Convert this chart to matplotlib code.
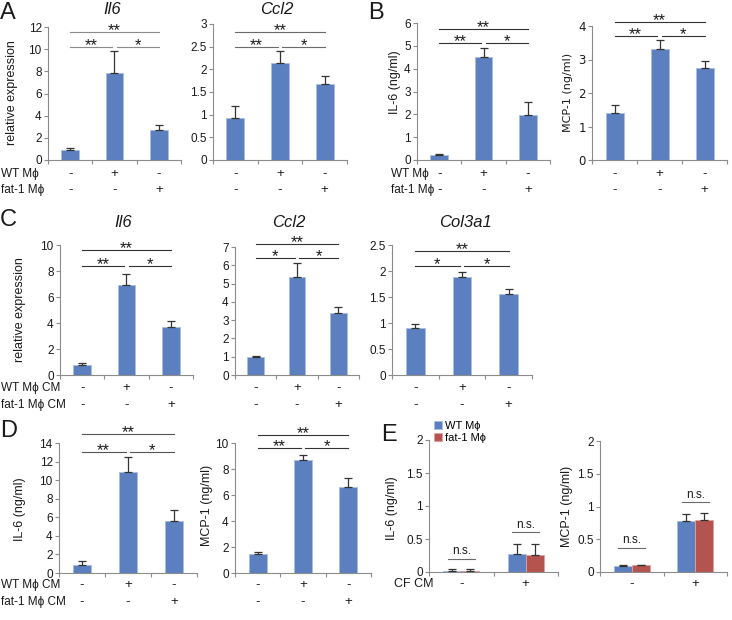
import matplotlib
matplotlib.use('Agg')

import matplotlib.pyplot as plt
import numpy as np
from matplotlib.ticker import FuncFormatter

plt.rcParams['font.family'] = ['Liberation Sans', 'DejaVu Sans']

W, H = 732, 620

BLUE = '#5b7fbf'
BLUE_EDGE = '#a8bfe4'
RED = '#b5534f'
RED_EDGE = '#e0a3a0'
AXIS = '#8c8c8c'
TXT = '#1a1a1a'

# A: qPCR in cardiac fibroblasts co-cultured with macrophages
A_IL6 = [0.90, 7.85, 2.75]
A_IL6_ERR = [0.15, 2.00, 0.40]
A_CCL2 = [0.93, 2.14, 1.68]
A_CCL2_ERR = [0.27, 0.27, 0.18]

# B: secreted proteins
B_IL6 = [0.22, 4.52, 1.95]
B_IL6_ERR = [0.05, 0.40, 0.57]
B_MCP1 = [1.40, 3.30, 2.74]
B_MCP1_ERR = [0.25, 0.28, 0.22]

# C: qPCR with conditioned medium
C_IL6 = [0.80, 6.95, 3.70]
C_IL6_ERR = [0.15, 0.80, 0.45]
C_CCL2 = [1.00, 5.35, 3.38]
C_CCL2_ERR = [0.03, 0.75, 0.32]
C_COL3A1 = [0.90, 1.89, 1.56]
C_COL3A1_ERR = [0.09, 0.09, 0.10]

# D: secreted proteins with conditioned medium
D_IL6 = [0.85, 10.9, 5.65]
D_IL6_ERR = [0.40, 1.55, 1.10]
D_MCP1 = [1.50, 8.70, 6.65]
D_MCP1_ERR = [0.10, 0.40, 0.65]

# E: macrophages with / without CF CM
E_GROUPS = ['-', '+']
E_IL6_WT = [0.02, 0.27]
E_IL6_WT_ERR = [0.02, 0.16]
E_IL6_FAT1 = [0.02, 0.26]
E_IL6_FAT1_ERR = [0.02, 0.17]
E_MCP1_WT = [0.09, 0.78]
E_MCP1_WT_ERR = [0.01, 0.10]
E_MCP1_FAT1 = [0.10, 0.79]
E_MCP1_FAT1_ERR = [0.01, 0.11]

ROW_WT = ['-', '+', '-']
ROW_FAT1 = ['-', '-', '+']

fig = plt.figure(figsize=(W / 100, H / 100), dpi=100)


def px(x, y):
  return x / W, 1 - y / H


def add_ax(left, right, top, bottom):
  return fig.add_axes([left / W, 1 - bottom / H, (right - left) / W, (bottom - top) / H])


def style(ax, ymax, ystep, ncat, font='Liberation Sans'):
  ax.set_xlim(-0.5, ncat - 0.5)
  ax.set_ylim(0, ymax)
  ax.set_yticks(np.arange(0, ymax + ystep / 2, ystep))
  ax.yaxis.set_major_formatter(FuncFormatter(lambda v, p: '%g' % v))
  ax.set_xticks(np.arange(-0.5, ncat, 1.0))
  ax.set_xticklabels([])
  for s in ['top', 'right']:
    ax.spines[s].set_visible(False)
  for s in ['left', 'bottom']:
    ax.spines[s].set_color(AXIS)
    ax.spines[s].set_linewidth(0.8)
  ax.tick_params(color=AXIS, length=3, width=0.8, labelsize=8.5, labelcolor=TXT, pad=1.5)
  for lab in ax.get_yticklabels():
    lab.set_family([font, 'DejaVu Sans'])
  ax.set_facecolor('none')


def bars3(ax, vals, errs):
  x = np.arange(len(vals))
  ax.bar(x, vals, width=0.4, color=BLUE, edgecolor=BLUE_EDGE, linewidth=0.6, zorder=2)
  ax.errorbar(x, vals, yerr=[np.zeros(len(errs)), errs], fmt='none', ecolor='#333333',
              elinewidth=0.9, capsize=3, capthick=0.9, zorder=3)


def star(ax, x, y, s):
  ax.annotate(s, xy=(x, y), xytext=(0, -2.2), textcoords='offset points',
              ha='center', va='baseline', fontsize=12, color=TXT, annotation_clip=False)


def brackets(ax, top, low, labels=('**', '**', '*'), color='#4a4a4a'):
  kw = dict(color=color, lw=0.8, clip_on=False)
  ax.plot([0, 2], [top, top], **kw)
  ax.plot([0, 0.95], [low, low], **kw)
  ax.plot([1.05, 2], [low, low], **kw)
  star(ax, 1, top, labels[0])
  star(ax, 0.47, low, labels[1])
  star(ax, 1.53, low, labels[2])


def sign_rows(ax, rows, offsets):
  for signs, off in zip(rows, offsets):
    for i, s in enumerate(signs):
      ax.annotate(s, xy=(i, 0), xycoords=('data', 'axes fraction'),
                  xytext=(0, -off * 0.72), textcoords='offset points',
                  ha='center', va='center', fontsize=9.5, color=TXT)


def bars2(ax, wt, wt_err, fat, fat_err, ns):
  x = np.arange(len(wt))
  w = 0.28
  ax.bar(x - w / 2, wt, width=w, color=BLUE, edgecolor=BLUE_EDGE, linewidth=0.6, zorder=2,
         label='WT M\u03d5')
  ax.bar(x + w / 2, fat, width=w, color=RED, edgecolor=RED_EDGE, linewidth=0.6, zorder=2,
         label='fat-1 M\u03d5')
  ek = dict(fmt='none', ecolor='#333333', elinewidth=0.9, capsize=3, capthick=0.9, zorder=3)
  ax.errorbar(x - w / 2, wt, yerr=[np.zeros(len(wt)), wt_err], **ek)
  ax.errorbar(x + w / 2, fat, yerr=[np.zeros(len(fat)), fat_err], **ek)
  for xi, h in zip(x, ns):
    ax.plot([xi - 0.21, xi + 0.21], [h, h], color='#6a6a6a', lw=0.8)
    ax.annotate('n.s.', xy=(xi, h), xytext=(0, 1), textcoords='offset points',
                ha='center', va='bottom', fontsize=8.5, color=TXT)


def ylab(x, y, s, font='Liberation Sans', size=9):
  fig.text(*px(x, y), s, rotation=90, ha='center', va='center', fontsize=size,
           color=TXT, family=[font, 'DejaVu Sans'])


def label(x, y, s, size=8.5, ha='left'):
  fig.text(*px(x, y), s, ha=ha, va='center', fontsize=size, color=TXT)


def title(x, y, s):
  fig.text(*px(x, y), s, ha='center', va='center', fontsize=12, style='italic', color=TXT)


def letter(x, y, s):
  fig.text(*px(x, y), s, ha='left', va='top', fontsize=17, color=TXT)


# ---- A ----
ax = add_ax(48, 181, 27, 160)
style(ax, 12, 2, 3)
bars3(ax, A_IL6, A_IL6_ERR)
brackets(ax, 11.55, 10.2, color='#8a8a8a')
sign_rows(ax, [ROW_WT, ROW_FAT1], [14, 30])
title(112, 10, 'Il6')
ylab(12, 93, 'relative expression')
label(1, 174, 'WT M\u03d5')
label(1, 190, 'fat-1 M\u03d5')
letter(0, 2, 'A')

ax = add_ax(213, 347, 24, 160)
style(ax, 3, 0.5, 3)
bars3(ax, A_CCL2, A_CCL2_ERR)
brackets(ax, 2.83, 2.49, color='#6a6a6a')
sign_rows(ax, [ROW_WT, ROW_FAT1], [14, 30])
title(277, 10, 'Ccl2')

# ---- B ----
ax = add_ax(417, 550, 23, 160)
style(ax, 6, 1, 3)
bars3(ax, B_IL6, B_IL6_ERR)
brackets(ax, 5.74, 5.13, color='#333333')
sign_rows(ax, [ROW_WT, ROW_FAT1], [14, 30])
ylab(395, 82, 'IL-6 (ng/ml)')
label(391, 174, 'WT M\u03d5')
label(391, 190, 'fat-1 M\u03d5')
letter(368, 2, 'B')

ax = add_ax(592, 727, 26, 160)
style(ax, 4, 1, 3, font='DejaVu Sans')
bars3(ax, B_MCP1, B_MCP1_ERR)
brackets(ax, 4.12, 3.7, color='#333333')
sign_rows(ax, [ROW_WT, ROW_FAT1], [14, 30])
ylab(568, 92, 'MCP-1 (ng/ml)', font='DejaVu Sans', size=8)

# ---- C ----
ax = add_ax(60, 193, 245, 375)
style(ax, 10, 2, 3)
bars3(ax, C_IL6, C_IL6_ERR)
brackets(ax, 9.6, 8.4, color='#333333')
sign_rows(ax, [ROW_WT, ROW_FAT1], [13, 30])
title(123, 222, 'Il6')
ylab(20, 310, 'relative expression')
label(1, 388, 'WT M\u03d5 CM')
label(1, 405, 'fat-1 M\u03d5 CM')
letter(0, 209, 'C')

ax = add_ax(235, 359, 247, 375)
style(ax, 7, 1, 3)
bars3(ax, C_CCL2, C_CCL2_ERR)
brackets(ax, 7.16, 6.4, labels=('**', '*', '*'), color='#333333')
sign_rows(ax, [ROW_WT, ROW_FAT1], [13, 30])
title(289, 223, 'Ccl2')

ax = add_ax(392, 532, 245, 375)
style(ax, 2.5, 0.5, 3)
bars3(ax, C_COL3A1, C_COL3A1_ERR)
brackets(ax, 2.38, 2.1, labels=('**', '*', '*'), color='#333333')
sign_rows(ax, [ROW_WT, ROW_FAT1], [13, 30])
title(465, 222, 'Col3a1')

# ---- D ----
ax = add_ax(59, 197, 443, 573)
style(ax, 14, 2, 3)
bars3(ax, D_IL6, D_IL6_ERR)
brackets(ax, 15.0, 13.0, color='#555555')
sign_rows(ax, [ROW_WT, ROW_FAT1], [12, 29])
ylab(20, 509, 'IL-6 (ng/ml)')
label(1, 585, 'WT M\u03d5 CM')
label(1, 602, 'fat-1 M\u03d5 CM')
letter(0, 420, 'D')

ax = add_ax(235, 371, 443, 573)
style(ax, 10, 2, 3)
bars3(ax, D_MCP1, D_MCP1_ERR)
brackets(ax, 10.6, 9.6, color='#333333')
sign_rows(ax, [ROW_WT, ROW_FAT1], [12, 29])
ylab(207, 505, 'MCP-1 (ng/ml)')

# ---- E ----
ax = add_ax(429, 558, 440, 572)
style(ax, 2, 0.5, 2)
bars2(ax, E_IL6_WT, E_IL6_WT_ERR, E_IL6_FAT1, E_IL6_FAT1_ERR, [0.2, 0.6])
sign_rows(ax, [E_GROUPS], [12])
ylab(392, 508, 'IL-6 (ng/ml)')
label(394, 584, 'CF CM', size=9)
letter(381, 424, 'E')
ax.legend(loc='upper left', bbox_to_anchor=px(434, 421), bbox_transform=fig.transFigure,
          frameon=False, fontsize=8, handlelength=0.7, handleheight=0.7,
          handletextpad=0.3, labelspacing=0.2, borderaxespad=0, borderpad=0)

ax = add_ax(600, 727, 441, 572)
style(ax, 2, 0.5, 2)
bars2(ax, E_MCP1_WT, E_MCP1_WT_ERR, E_MCP1_FAT1, E_MCP1_FAT1_ERR, [0.37, 1.07])
sign_rows(ax, [E_GROUPS], [12])
ylab(567, 506, 'MCP-1 (ng/ml)')

fig.savefig('out.png', dpi=100)
